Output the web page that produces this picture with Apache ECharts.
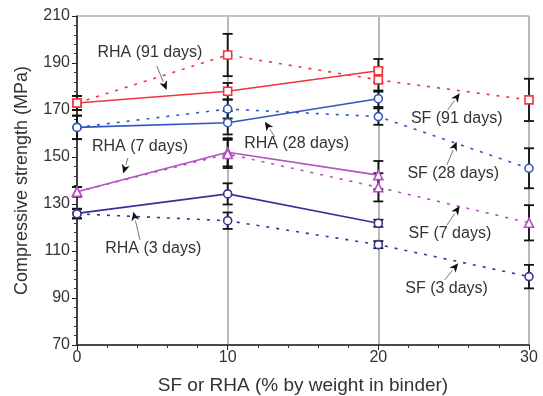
<!DOCTYPE html>
<html><head><meta charset="utf-8">
<script src="https://cdn.jsdelivr.net/npm/echarts@6/dist/echarts.min.js"></script>
<style>html,body{margin:0;padding:0;background:#fff}#c{width:543px;height:396px}</style>
</head><body><div id="c"></div>
<script>
// ---- data ----
const xRHA = [0, 10, 20];
const xSF = [0, 10, 20, 30];
const rha91 = [173, 178, 186.7];
const sf91 = [173, 193.4, 182.8, 174.3];
const rha28 = [162.6, 164.6, 174.8];
const sf28 = [162.6, 170.4, 167.2, 145.2];
const rha7 = [135.2, 152, 142.3];
const sf7 = [135.2, 151.3, 137.1, 122];
const rha3 = [126, 134.3, 121.8];
const sf3 = [125.8, 122.9, 112.7, 99.1];
const errRha91 = [3, 3.5, 5];
const errSf91 = [3, 9, 5, 9];
const errRha28 = [5, 5, 3.5];
const errSf28 = [5, 4, 3.5, 8.5];
const errRha7 = [2, 6, 6];
const errSf7 = [2, 6, 6, 7.5];
const errRha3 = [2, 4.5, 1.5];
const errSf3 = [2, 3.5, 1.5, 5];
const yTicks = [70, 90, 110, 130, 150, 170, 190, 210];
const xTicks = [0, 10, 20, 30];
// annotation labels: text, text position (x,y), arrow start (x,y), arrow tip (x,y)
const annText = ['RHA (91 days)', 'RHA (7 days)', 'RHA (28 days)', 'RHA (3 days)', 'SF (91 days)', 'SF (28 days)', 'SF (7 days)', 'SF (3 days)'];
const annTextPos = [[4.84, 194.3], [4.18, 154.4], [14.58, 155.5], [5.06, 111.1], [25.2, 166.2], [24.97, 143.1], [24.75, 117.5], [24.53, 93.8]];
const annFrom = [[5.3, 188.7], [3.38, 149.6], [13.14, 158.5], [4.18, 114.7], [24.6, 170], [24.55, 146.6], [24.55, 121], [24.4, 97.7]];
const annTo = [[5.95, 178.5], [3.07, 143], [12.47, 165], [3.74, 126.7], [25.4, 177.1], [25.2, 156.5], [25.4, 129.1], [25.3, 104.8]];

const RED = '#f0353a', BLUE = '#2f58c0', PURPLE = '#b352c0', NAVY = '#33339a';
const FONT = 'Liberation Sans';

function pairs(xs, ys) { return ys.map((v, i) => [xs[i], v]); }
function errData(xs, ys, es) { return ys.map((v, i) => [xs[i], v - es[i], v + es[i]]); }

const allErr = [].concat(
  errData(xRHA, rha91, errRha91), errData(xSF, sf91, errSf91),
  errData(xRHA, rha28, errRha28), errData(xSF, sf28, errSf28),
  errData(xRHA, rha7, errRha7), errData(xSF, sf7, errSf7),
  errData(xRHA, rha3, errRha3), errData(xSF, sf3, errSf3));

function lineSeries(name, xs, ys, color, symbol, dashed) {
  return {
    name, type: 'line', data: pairs(xs, ys), z: 5,
    symbol, symbolSize: symbol === 'triangle' ? 9 : 8,
    showSymbol: true,
    itemStyle: { color: '#fff', borderColor: color, borderWidth: 1.6 },
    lineStyle: { color, width: 1.6, type: dashed ? [3, 7] : 'solid' },
    emphasis: { disabled: true }, animation: false
  };
}

const chart = echarts.init(document.getElementById('c'), null, { renderer: 'canvas' });
chart.setOption({
  animation: false,
  grid: { left: 77, right: 14, top: 16, bottom: 51, show: true, borderColor: '#888', borderWidth: 1,
    containLabel: false, outerBoundsMode: 'none' },
  xAxis: {
    type: 'value', min: 0, max: 30, interval: 10,
    name: 'SF or RHA (% by weight in binder)', nameLocation: 'middle', nameGap: 31,
    nameTextStyle: { fontFamily: FONT, fontSize: 19, color: '#333' },
    axisLine: { lineStyle: { color: '#222', width: 1.6 } },
    axisTick: { length: 5, lineStyle: { color: '#222' } },
    minorTick: { show: true, splitNumber: 5, length: 3, lineStyle: { color: '#333' } },
    axisLabel: { fontFamily: FONT, fontSize: 16, color: '#333', margin: 5,
      formatter: v => xTicks.includes(v) ? String(v) : '' },
    splitLine: { show: true, lineStyle: { color: '#b8b8b8', width: 2 } }
  },
  yAxis: {
    type: 'value', min: 70, max: 210, interval: 20,
    name: 'Compressive strength (MPa)', nameLocation: 'middle', nameGap: 46,
    nameTextStyle: { fontFamily: FONT, fontSize: 18, color: '#333' },
    axisLine: { show: true, lineStyle: { color: '#222', width: 1.6 } },
    axisTick: { show: true, length: 5, lineStyle: { color: '#222' } },
    minorTick: { show: true, splitNumber: 5, length: 3, lineStyle: { color: '#333' } },
    axisLabel: { fontFamily: FONT, fontSize: 16, color: '#333', margin: 7,
      formatter: v => yTicks.includes(v) ? String(v) : '' },
    splitLine: { show: false }
  },
  series: [
    {
      type: 'custom', name: 'err', data: allErr, z: 3, animation: false, silent: true,
      renderItem: function (params, api) {
        const x = api.value(0), lo = api.value(1), hi = api.value(2);
        const p1 = api.coord([x, hi]), p2 = api.coord([x, lo]);
        const w = 5;
        const st = { stroke: '#111', lineWidth: 1.8 };
        return { type: 'group', children: [
          { type: 'line', shape: { x1: p1[0], y1: p1[1], x2: p2[0], y2: p2[1] }, style: st },
          { type: 'line', shape: { x1: p1[0] - w, y1: p1[1], x2: p1[0] + w, y2: p1[1] }, style: st },
          { type: 'line', shape: { x1: p2[0] - w, y1: p2[1], x2: p2[0] + w, y2: p2[1] }, style: st }
        ]};
      }
    },
    lineSeries('RHA (91 days)', xRHA, rha91, RED, 'rect', false),
    lineSeries('SF (91 days)', xSF, sf91, RED, 'rect', true),
    lineSeries('RHA (28 days)', xRHA, rha28, BLUE, 'circle', false),
    lineSeries('SF (28 days)', xSF, sf28, BLUE, 'circle', true),
    lineSeries('RHA (7 days)', xRHA, rha7, PURPLE, 'triangle', false),
    lineSeries('SF (7 days)', xSF, sf7, PURPLE, 'triangle', true),
    lineSeries('RHA (3 days)', xRHA, rha3, NAVY, 'circle', false),
    lineSeries('SF (3 days)', xSF, sf3, NAVY, 'circle', true),
    {
      type: 'custom', name: 'ann', z: 10, animation: false, silent: true,
      data: annText.map((t, i) => [annTextPos[i][0], annTextPos[i][1], annFrom[i][0], annFrom[i][1], annTo[i][0], annTo[i][1]]),
      renderItem: function (params, api) {
        const i = params.dataIndex;
        const tp = api.coord([api.value(0), api.value(1)]);
        const a = api.coord([api.value(2), api.value(3)]);
        const b = api.coord([api.value(4), api.value(5)]);
        const dx = b[0] - a[0], dy = b[1] - a[1];
        const L = Math.sqrt(dx * dx + dy * dy) || 1;
        const ux = dx / L, uy = dy / L;
        const hl = 9, hw = 4;
        const bx = b[0] - ux * hl, by = b[1] - uy * hl;
        return { type: 'group', children: [
          { type: 'text', x: tp[0], y: tp[1], style: { text: annText[i], fill: '#333',
            font: '16px "Liberation Sans", Arial, sans-serif', align: 'center', verticalAlign: 'middle' } },
          { type: 'line', shape: { x1: a[0], y1: a[1], x2: bx, y2: by }, style: { stroke: '#777', lineWidth: 1 } },
          { type: 'polygon', shape: { points: [[b[0], b[1]], [bx - uy * hw, by + ux * hw], [bx + ux * 2.5, by + uy * 2.5], [bx + uy * hw, by - ux * hw]] },
            style: { fill: '#111' } }
        ]};
      }
    }
  ]
});
</script>
</body></html>
